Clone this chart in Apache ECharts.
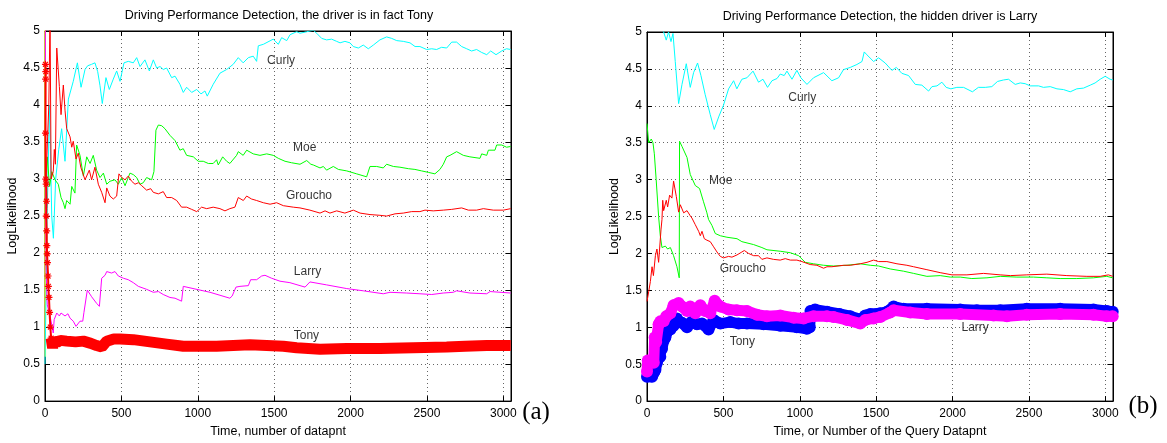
<!DOCTYPE html>
<html><head><meta charset="utf-8">
<script src="https://cdn.jsdelivr.net/npm/echarts/dist/echarts.min.js"></script>
<style>html,body{margin:0;padding:0;background:#fff}#c{width:1167px;height:443px}</style>
</head><body><div id="c"></div>
<script>
// ---------- data: left panel (a) ----------
const xTicks = [0, 500, 1000, 1500, 2000, 2500, 3000];
const yTicks = [0, 0.5, 1, 1.5, 2, 2.5, 3, 3.5, 4, 4.5, 5];

const leftCurly = [[0,0.5],[15,2.6],[30,4.0],[44,2.5],[55,2.2],[70,3.0],[90,3.4],[109,3.68],[131,3.24],[153,4.08],[185,4.32],[212,4.57],[236,4.24],[262,4.48],[279,4.53],[305,4.55],[327,4.57],[345,4.45],[360,4.26],[375,4.02],[399,4.37],[421,4.21],[447,4.35],[469,4.46],[491,4.32],[517,4.57],[545,4.59],[578,4.57],[600,4.64],[622,4.52],[654,4.61],[683,4.46],[709,4.61],[731,4.50],[753,4.52],[774,4.48],[796,4.50],[829,4.37],[851,4.39],[883,4.28],[905,4.17],[927,4.24],[960,4.17],[993,4.21],[1021,4.15],[1047,4.19],[1062,4.12],[1101,4.28],[1145,4.43],[1189,4.48],[1232,4.55],[1265,4.64],[1297,4.57],[1331,4.64],[1363,4.66],[1385,4.59],[1396,4.80],[1429,4.82],[1494,4.89],[1527,4.82],[1549,4.91],[1582,4.87],[1604,4.95],[1647,4.99],[1669,4.97],[1713,4.99],[1756,5.01],[1778,4.97],[1811,4.90],[1843,4.88],[1876,4.89],[1909,4.86],[1931,4.84],[1963,4.86],[1996,4.84],[2018,4.79],[2051,4.77],[2083,4.81],[2116,4.76],[2149,4.81],[2192,4.88],[2236,4.92],[2269,4.90],[2302,4.87],[2345,4.86],[2389,4.84],[2422,4.79],[2454,4.79],[2498,4.75],[2531,4.76],[2563,4.75],[2596,4.78],[2629,4.77],[2662,4.85],[2694,4.85],[2727,4.79],[2760,4.76],[2792,4.73],[2825,4.75],[2858,4.71],[2891,4.68],[2917,4.73],[2952,4.68],[2989,4.73],[3021,4.76],[3048,4.75]];

const leftMoe = [[3,2.6],[15,3.3],[30,2.9],[45,3.1],[65,2.99],[87,2.93],[105,2.75],[120,2.68],[131,2.60],[142,2.71],[164,2.66],[175,2.90],[196,2.81],[207,3.46],[229,3.32],[251,3.04],[273,3.30],[295,3.21],[316,3.32],[338,3.12],[360,3.02],[382,3.08],[404,2.93],[425,2.97],[458,2.99],[480,2.93],[502,3.02],[524,2.91],[556,3.08],[578,3.06],[600,3.02],[622,2.93],[643,2.95],[665,3.02],[698,2.99],[713,3.10],[722,3.08],[726,3.66],[742,3.73],[764,3.72],[785,3.68],[818,3.59],[851,3.52],[883,3.39],[905,3.41],[927,3.32],[971,3.30],[1003,3.24],[1036,3.24],[1069,3.21],[1101,3.21],[1123,3.26],[1134,3.19],[1163,3.30],[1189,3.24],[1210,3.21],[1254,3.32],[1265,3.37],[1297,3.32],[1320,3.39],[1363,3.34],[1407,3.32],[1451,3.34],[1494,3.32],[1527,3.28],[1571,3.24],[1614,3.22],[1669,3.20],[1713,3.25],[1740,3.20],[1756,3.19],[1800,3.15],[1822,3.17],[1843,3.12],[1887,3.17],[1920,3.13],[1975,3.11],[2040,3.07],[2105,3.03],[2127,3.17],[2171,3.17],[2214,3.15],[2236,3.20],[2280,3.17],[2323,3.16],[2378,3.14],[2421,3.13],[2465,3.11],[2509,3.09],[2552,3.07],[2585,3.13],[2607,3.20],[2629,3.30],[2651,3.32],[2694,3.37],[2738,3.32],[2781,3.30],[2847,3.28],[2858,3.34],[2891,3.32],[2902,3.39],[2945,3.39],[2956,3.46],[2989,3.46],[3021,3.43],[3048,3.44]];

const leftGroucho = [[5,2.9],[25,4.0],[33,5.2],[40,3.0],[54,3.10],[61,3.40],[68,3.2],[77,4.77],[94,4.25],[105,3.87],[120,4.27],[131,3.93],[142,3.68],[164,3.57],[175,3.43],[185,3.51],[203,3.27],[218,3.35],[234,3.16],[262,2.99],[290,3.12],[305,2.99],[327,3.16],[349,2.93],[371,2.82],[393,2.68],[404,2.88],[425,2.77],[447,2.73],[469,2.77],[484,3.07],[502,3.02],[524,2.99],[545,3.04],[567,2.97],[589,2.93],[611,2.95],[633,2.91],[665,2.85],[692,2.87],[709,2.82],[742,2.80],[774,2.83],[796,2.75],[829,2.75],[862,2.71],[894,2.62],[927,2.62],[960,2.59],[993,2.56],[1025,2.62],[1058,2.60],[1101,2.62],[1145,2.60],[1178,2.57],[1210,2.60],[1243,2.62],[1265,2.75],[1298,2.71],[1320,2.77],[1352,2.73],[1385,2.71],[1429,2.68],[1473,2.66],[1516,2.68],[1560,2.64],[1625,2.62],[1669,2.61],[1734,2.58],[1800,2.54],[1833,2.57],[1865,2.54],[1909,2.57],[1963,2.54],[2018,2.58],[2062,2.54],[2127,2.52],[2192,2.51],[2236,2.50],[2291,2.53],[2345,2.54],[2400,2.56],[2454,2.56],[2487,2.58],[2541,2.57],[2607,2.58],[2662,2.59],[2727,2.61],[2771,2.58],[2825,2.58],[2869,2.60],[2934,2.58],[3000,2.58],[3048,2.60]];

const leftLarry = [[2,5.5],[6,1.8],[15,1.3],[33,1.15],[54,0.92],[60,1.1],[77,1.19],[94,1.15],[105,1.19],[131,1.15],[150,1.18],[164,1.12],[185,1.08],[203,1.01],[229,1.08],[247,1.08],[255,1.20],[265,1.22],[277,1.50],[305,1.41],[338,1.32],[356,1.28],[371,1.66],[393,1.70],[404,1.75],[436,1.73],[458,1.75],[480,1.69],[513,1.66],[545,1.64],[578,1.60],[611,1.55],[665,1.51],[709,1.47],[742,1.48],[774,1.44],[818,1.40],[851,1.39],[894,1.35],[905,1.55],[949,1.53],[1014,1.50],[1080,1.47],[1145,1.43],[1210,1.39],[1225,1.42],[1250,1.54],[1276,1.55],[1331,1.56],[1346,1.64],[1385,1.64],[1418,1.69],[1440,1.70],[1483,1.66],[1538,1.62],[1603,1.60],[1669,1.56],[1702,1.54],[1734,1.61],[1843,1.57],[1975,1.52],[2083,1.49],[2214,1.45],[2258,1.47],[2367,1.46],[2454,1.45],[2531,1.44],[2607,1.46],[2672,1.47],[2694,1.49],[2781,1.46],[2891,1.45],[2913,1.48],[3048,1.46]];

const leftYellow = [[1,5.5],[2,0.6]];

const leftTonyStart = [[3,4.55],[5,4.45],[4,4.35],[3,3.62],[5,3.0],[8,2.93],[10,2.7],[8,2.5],[11,2.3],[12,2.1],[14,1.99],[16,1.87],[20,1.69],[22,1.55],[26,1.4],[30,1.2],[35,1.0],[40,0.85]];

const leftTony = [[40,0.85],[50,0.72],[60,0.85],[77,0.79],[100,0.82],[142,0.81],[200,0.80],[251,0.81],[300,0.78],[338,0.75],[371,0.73],[404,0.81],[450,0.84],[491,0.84],[578,0.83],[687,0.80],[796,0.77],[905,0.74],[1014,0.74],[1123,0.74],[1232,0.75],[1341,0.76],[1451,0.75],[1560,0.74],[1647,0.72],[1800,0.70],[1975,0.71],[2192,0.71],[2410,0.72],[2629,0.73],[2750,0.74],[2891,0.75],[3048,0.75]];

const leftLabels = [[1545,4.60,'Curly'],[1700,3.43,'Moe'],[1728,2.77,'Groucho'],[1718,1.75,'Larry'],[1711,0.88,'Tony']];

// ---------- data: right panel (b) ----------
const rightCurly = [[0,5.3],[60,5.2],[109,5.0],[126,4.89],[141,5.0],[157,4.87],[170,4.98],[185,4.6],[207,4.03],[229,4.29],[257,4.57],[283,4.25],[305,4.45],[331,4.58],[353,4.41],[381,4.15],[414,3.88],[440,3.68],[469,3.85],[501,4.01],[534,4.23],[567,4.34],[588,4.23],[621,4.36],[654,4.38],[694,4.47],[730,4.32],[759,4.36],[789,4.25],[818,4.34],[851,4.37],[872,4.43],[898,4.41],[916,4.47],[949,4.36],[981,4.48],[1007,4.38],[1047,4.29],[1090,4.38],[1156,4.45],[1210,4.34],[1254,4.38],[1286,4.49],[1330,4.52],[1374,4.56],[1407,4.60],[1422,4.73],[1440,4.69],[1483,4.60],[1516,4.65],[1559,4.58],[1603,4.48],[1632,4.52],[1668,4.44],[1712,4.41],[1756,4.29],[1799,4.28],[1843,4.20],[1865,4.26],[1898,4.27],[1930,4.32],[1958,4.25],[1989,4.23],[2028,4.25],[2072,4.25],[2130,4.19],[2169,4.25],[2214,4.25],[2257,4.26],[2294,4.33],[2333,4.35],[2366,4.36],[2410,4.29],[2443,4.31],[2475,4.30],[2508,4.27],[2563,4.27],[2595,4.25],[2639,4.26],[2683,4.23],[2726,4.22],[2770,4.19],[2813,4.23],[2857,4.24],[2901,4.28],[2933,4.31],[2966,4.36],[2999,4.40],[3031,4.36],[3048,4.35]];

const rightMoe = [[0,3.76],[11,3.50],[22,3.48],[28,3.55],[39,3.50],[48,3.35],[60,3.0],[76,2.50],[87,2.24],[98,2.08],[120,2.10],[135,2.06],[153,2.08],[174,1.97],[196,1.82],[211,1.67],[213,3.52],[229,3.45],[262,3.30],[283,3.07],[316,2.92],[344,2.88],[370,2.70],[392,2.55],[403,2.46],[425,2.38],[447,2.27],[480,2.24],[523,2.22],[589,2.20],[621,2.16],[698,2.12],[752,2.08],[785,2.05],[872,2.03],[938,2.01],[992,1.97],[1036,1.88],[1090,1.86],[1156,1.84],[1221,1.83],[1309,1.84],[1396,1.86],[1461,1.84],[1516,1.83],[1592,1.79],[1679,1.76],[1745,1.73],[1832,1.69],[1919,1.70],[1985,1.68],[2050,1.68],[2126,1.66],[2225,1.67],[2312,1.69],[2421,1.68],[2530,1.68],[2617,1.67],[2704,1.66],[2813,1.66],[2922,1.67],[3009,1.69],[3048,1.67]];

const rightGroucho = [[0,1.35],[11,1.48],[22,1.62],[33,1.82],[42,1.70],[48,1.70],[55,1.97],[65,2.06],[76,1.88],[92,2.33],[98,2.46],[103,2.72],[109,2.58],[126,2.72],[135,2.63],[148,2.79],[163,2.75],[174,2.98],[192,2.77],[207,2.56],[218,2.66],[240,2.55],[262,2.58],[283,2.51],[294,2.48],[316,2.39],[338,2.30],[349,2.24],[360,2.30],[375,2.20],[392,2.18],[414,2.16],[436,2.09],[458,2.02],[480,1.96],[501,1.94],[534,1.96],[556,1.95],[589,1.98],[621,2.02],[637,2.04],[665,2.00],[698,1.97],[730,1.97],[752,1.92],[785,1.94],[828,1.92],[872,1.91],[905,1.93],[938,1.91],[981,1.91],[1014,1.89],[1068,1.85],[1112,1.84],[1156,1.80],[1178,1.82],[1210,1.82],[1287,1.84],[1330,1.84],[1396,1.86],[1440,1.88],[1483,1.91],[1516,1.89],[1570,1.89],[1636,1.86],[1701,1.84],[1745,1.82],[1832,1.78],[1919,1.74],[1996,1.71],[2094,1.71],[2203,1.73],[2312,1.71],[2378,1.70],[2486,1.71],[2617,1.72],[2748,1.70],[2879,1.69],[2966,1.69],[3020,1.71],[3048,1.69]];

const rightTony = [[0,0.33],[33,0.33],[44,0.38],[55,0.42],[65,0.52],[75,0.58],[87,0.60],[98,0.71],[109,0.82],[120,0.86],[135,0.95],[153,0.97],[174,1.02],[196,1.12],[207,1.08],[229,1.06],[262,1.00],[290,1.07],[327,1.04],[360,1.05],[403,0.97],[436,1.10],[480,1.05],[545,1.07],[600,1.05],[654,1.05],[763,1.04],[872,1.02],[981,1.00],[1047,0.98],[1065,1.00],[1070,1.22],[1100,1.24],[1178,1.21],[1260,1.18],[1330,1.15],[1396,1.11],[1429,1.16],[1461,1.18],[1527,1.19],[1570,1.21],[1614,1.28],[1679,1.25],[1832,1.25],[2050,1.24],[2159,1.23],[2312,1.23],[2486,1.25],[2704,1.25],[2922,1.24],[3009,1.22],[3048,1.21]];

const rightLarry = [[0,0.40],[5,0.55],[22,0.55],[44,0.52],[50,0.86],[60,0.80],[76,1.04],[87,1.08],[109,1.08],[126,1.15],[153,1.19],[174,1.30],[207,1.33],[229,1.28],[262,1.22],[283,1.28],[316,1.19],[349,1.30],[381,1.22],[414,1.19],[443,1.36],[480,1.28],[534,1.24],[589,1.23],[654,1.22],[720,1.17],[785,1.15],[872,1.16],[960,1.13],[1025,1.12],[1090,1.15],[1178,1.15],[1221,1.14],[1309,1.10],[1396,1.05],[1429,1.10],[1483,1.12],[1527,1.14],[1592,1.20],[1614,1.23],[1723,1.20],[1832,1.18],[2050,1.18],[2268,1.16],[2356,1.15],[2486,1.17],[2704,1.18],[2922,1.17],[3009,1.15],[3048,1.15]];

const rightLabels = [[1016,4.11,'Curly'],[483,2.99,'Moe'],[627,1.80,'Groucho'],[624,0.81,'Tony'],[2148,0.99,'Larry']];

const titles = ['Driving Performance Detection, the driver is in fact Tony', 'Driving Performance Detection, the hidden driver is Larry'];
const xNames = ['Time, number of datapnt', 'Time, or Number of the Query Datapnt'];
const yName = 'LogLikelihood';
const panelTags = ['(a)', '(b)'];

// ---------- chart ----------
const FONT = '"Liberation Sans", Arial, Helvetica, sans-serif';
const XMAX = 3050;
const grids = [
  {left: 45, top: 31, width: 466, height: 375},
  {left: 647, top: 32, width: 466, height: 376}
];
const dotted = {show: true, lineStyle: {color: '#666', type: [1, 3], width: 1}};
const blackLine = {show: true, onZero: false, lineStyle: {color: '#000', width: 1}};
const tick = {show: true, inside: true, length: 5, lineStyle: {color: '#000', width: 1}};

const xAxes = [], yAxes = [];
[0, 1].forEach(g => {
  xAxes.push({type: 'value', gridIndex: g, min: 0, max: XMAX, interval: 500, position: 'bottom',
    axisLine: blackLine, axisTick: tick, splitLine: dotted,
    axisLabel: {color: '#000', fontSize: 12, fontFamily: FONT, margin: 7,
      formatter: v => xTicks.includes(v) ? String(v) : ''},
    name: xNames[g], nameLocation: 'middle', nameGap: 22,
    nameTextStyle: {color: '#000', fontSize: 12.5, fontFamily: FONT}});
  xAxes.push({type: 'value', gridIndex: g, min: 0, max: XMAX, interval: 500, position: 'top',
    axisLine: blackLine, axisTick: tick, splitLine: {show: false}, axisLabel: {show: false}});
  yAxes.push({type: 'value', gridIndex: g, min: 0, max: 5, interval: 0.5, position: 'left',
    axisLine: blackLine, axisTick: tick, splitLine: dotted,
    axisLabel: {color: '#000', fontSize: 12, fontFamily: FONT, margin: 5,
      formatter: v => yTicks.includes(v) ? String(v) : ''},
    name: yName, nameLocation: 'middle', nameGap: 25, nameRotate: 90,
    nameTextStyle: {color: '#000', fontSize: 12.5, fontFamily: FONT}});
  yAxes.push({type: 'value', gridIndex: g, min: 0, max: 5, interval: 0.5, position: 'right',
    axisLine: blackLine, axisTick: tick, splitLine: {show: false}, axisLabel: {show: false}});
});

function line(g, data, color, width, z) {
  return {type: 'line', xAxisIndex: g * 2, yAxisIndex: g * 2, data: data, showSymbol: false,
    lineStyle: {color: color, width: width}, itemStyle: {color: color}, z: z || 2, clip: true, silent: true};
}
function dots(g, data, color, z) {
  return {type: 'line', xAxisIndex: g * 2, yAxisIndex: g * 2, data: data, showSymbol: true, showAllSymbol: true,
    symbol: 'circle', symbolSize: 12, lineStyle: {color: color, width: 11}, itemStyle: {color: color},
    clip: true, silent: true, z: z};
}
function labels(g, data) {
  return {type: 'scatter', xAxisIndex: g * 2, yAxisIndex: g * 2, data: data, symbolSize: 1,
    itemStyle: {color: 'rgba(0,0,0,0)'}, silent: true, z: 10,
    label: {show: true, position: 'inside', color: '#000', fontSize: 12, fontFamily: FONT,
      formatter: p => p.value[2]}};
}
const ASTERISK = 'path://M0,-10L0,10M-10,0L10,0M-7,-7L7,7M-7,7L7,-7';

const series = [
  line(0, leftYellow, '#ffff00', 1.5),
  line(0, leftCurly, '#00ffff', 1),
  line(0, leftMoe, '#00ff00', 1),
  line(0, leftGroucho, '#ff0000', 1),
  line(0, leftLarry, '#ff00ff', 1),
  line(0, leftTony, '#ff0000', 11, 4),
  {type: 'line', xAxisIndex: 0, yAxisIndex: 0, data: leftTonyStart, showSymbol: true, showAllSymbol: true,
    symbol: ASTERISK, symbolSize: 7, lineStyle: {color: '#ff0000', width: 2},
    itemStyle: {color: 'rgba(0,0,0,0)', borderColor: '#ff0000', borderWidth: 1.2}, clip: true, silent: true, z: 4},
  labels(0, leftLabels),
  line(1, rightCurly, '#00ffff', 1),
  line(1, rightMoe, '#00ff00', 1),
  line(1, rightGroucho, '#ff0000', 1),
  dots(1, rightTony, '#0000ff', 3),
  dots(1, rightLarry, '#ff00ff', 4),
  labels(1, rightLabels)
];

const chart = echarts.init(document.getElementById('c'), null, {renderer: 'canvas'});
chart.setOption({
  animation: false,
  backgroundColor: '#fff',
  grid: grids.map(g => Object.assign({show: true, borderColor: '#000', borderWidth: 1, backgroundColor: 'rgba(0,0,0,0)'}, g)),
  xAxis: xAxes,
  yAxis: yAxes,
  series: series,
  graphic: [
    {type: 'text', x: 279, y: 16, style: {text: titles[0], font: '12.5px ' + FONT, fill: '#000', textAlign: 'center', textVerticalAlign: 'middle'}},
    {type: 'text', x: 880, y: 17, style: {text: titles[1], font: '12.5px ' + FONT, fill: '#000', textAlign: 'center', textVerticalAlign: 'middle'}},
    {type: 'text', x: 536, y: 412, style: {text: panelTags[0], font: '25px "Liberation Serif", "Times New Roman", serif', fill: '#000', textAlign: 'center', textVerticalAlign: 'middle'}},
    {type: 'text', x: 1143, y: 406, style: {text: panelTags[1], font: '25px "Liberation Serif", "Times New Roman", serif', fill: '#000', textAlign: 'center', textVerticalAlign: 'middle'}}
  ]
});
</script>
</body></html>
